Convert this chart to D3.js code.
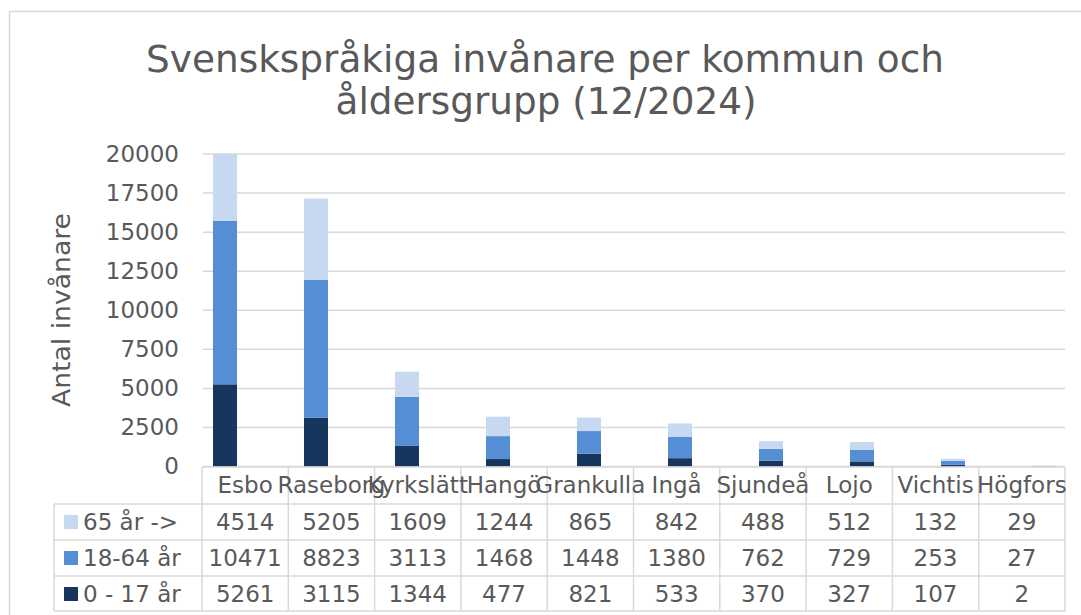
<!DOCTYPE html>
<html>
<head>
<meta charset="utf-8">
<script src="https://cdn.jsdelivr.net/npm/d3@7"></script>
<style>
  body { margin: 0; background: #fff; }
  text { font-family: "DejaVu Sans", Verdana, sans-serif; fill: #595959; }
</style>
</head>
<body>
<div class="chart"></div>
<script>
// data (table under the chart)
var kommuner = ["Esbo", "Raseborg", "Kyrkslätt", "Hangö", "Grankulla", "Ingå", "Sjundeå", "Lojo", "Vichtis", "Högfors"];
var barn = [5261, 3115, 1344, 477, 821, 533, 370, 327, 107, 2];          // 0 - 17 år
var vuxna = [10471, 8823, 3113, 1468, 1448, 1380, 762, 729, 253, 27];   // 18-64 år
var aldre = [4514, 5205, 1609, 1244, 865, 842, 488, 512, 132, 29];      // 65 år ->
var yTicks = [0, 2500, 5000, 7500, 10000, 12500, 15000, 17500, 20000];

var series = [
  { name: "0 - 17 år", values: barn, color: "#17365d" },
  { name: "18-64 år", values: vuxna, color: "#558ed5" },
  { name: "65 år ->", values: aldre, color: "#c6d9f1" }
];
// table rows are listed top to bottom, reverse of stacking
var tableRows = series.slice().reverse();

var width = 1081, height = 615;
var grid = "#d9d9d9";

var svg = d3.select(".chart")
    .append("svg")
    .attr("width", width)
    .attr("height", height);

svg.append("rect")
    .attr("width", width).attr("height", height)
    .attr("fill", "#fff");

// chart outer border
svg.append("rect")
    .attr("x", 9.5).attr("y", 11.5)
    .attr("width", 1200).attr("height", 800)
    .attr("fill", "none")
    .attr("stroke", grid)
    .attr("stroke-width", 1.5);

// title
svg.append("text")
    .attr("x", 545).attr("y", 72)
    .attr("text-anchor", "middle")
    .attr("font-size", 38)
    .attr("textLength", 798)
    .attr("lengthAdjust", "spacingAndGlyphs")
    .text("Svenskspråkiga invånare per kommun och");
svg.append("text")
    .attr("x", 546).attr("y", 114)
    .attr("text-anchor", "middle")
    .attr("font-size", 38)
    .attr("textLength", 421)
    .attr("lengthAdjust", "spacingAndGlyphs")
    .text("åldersgrupp (12/2024)");

var y = d3.scaleLinear()
    .domain([0, 20000])
    .range([466.5, 154])
    .clamp(true);

// bars sit on their own band scale (they do not line up with the table columns)
var x = d3.scaleBand()
    .domain(kommuner)
    .range([179.5, 1089.5])
    .paddingInner(0.736)
    .paddingOuter(0.368);

// table columns
var col = d3.scaleBand()
    .domain(kommuner)
    .range([202, 1065]);

// gridlines
svg.append("g")
    .selectAll("line")
    .data(yTicks)
    .enter()
    .append("line")
    .attr("x1", 203).attr("x2", 1065)
    .attr("y1", function(d) { return y(d); })
    .attr("y2", function(d) { return y(d); })
    .attr("stroke", grid)
    .attr("stroke-width", 1.5);

// y axis labels
var yAxis = d3.axisLeft(y)
    .tickValues(yTicks)
    .tickFormat(d3.format("d"))
    .tickSize(0)
    .tickPadding(0);
var yg = svg.append("g")
    .attr("transform", "translate(179,0)")
    .call(yAxis);
yg.select(".domain").remove();
yg.selectAll("text")
    .attr("font-size", 23)
    .attr("font-family", "DejaVu Sans, Verdana, sans-serif")
    .attr("fill", "#595959");

svg.append("text")
    .attr("transform", "translate(70,310) rotate(-90)")
    .attr("text-anchor", "middle")
    .attr("font-size", 25)
    .attr("textLength", 194)
    .attr("lengthAdjust", "spacingAndGlyphs")
    .text("Antal invånare");

// stacked bars
var rows = kommuner.map(function(k, i) {
  var r = { kommun: k };
  series.forEach(function(s) { r[s.name] = s.values[i]; });
  return r;
});
var stack = d3.stack().keys(series.map(function(s) { return s.name; }));
var layers = stack(rows);

svg.append("g")
    .selectAll("g")
    .data(layers)
    .enter()
    .append("g")
    .attr("fill", function(d, i) { return series[i].color; })
    .selectAll("rect")
    .data(function(d) { return d; })
    .enter()
    .append("rect")
    .attr("x", function(d) { return x(d.data.kommun); })
    .attr("width", x.bandwidth())
    .attr("y", function(d) { return y(d[1]); })
    .attr("height", function(d) { return y(d[0]) - y(d[1]); });

// data table
var headTop = 467, rowH = 36, bodyTop = 504;
var bodyBottom = bodyTop + rowH * 3 - 1;
var tbl = svg.append("g")
    .attr("stroke", grid)
    .attr("stroke-width", 1.5);

tbl.append("line")
    .attr("x1", 202).attr("x2", 1065)
    .attr("y1", headTop).attr("y2", headTop);
tbl.selectAll(".hline")
    .data([0, 1, 2, 3])
    .enter()
    .append("line")
    .attr("class", "hline")
    .attr("x1", 54).attr("x2", 1065)
    .attr("y1", function(d) { return d === 3 ? bodyBottom : bodyTop + d * rowH; })
    .attr("y2", function(d) { return d === 3 ? bodyBottom : bodyTop + d * rowH; });
tbl.selectAll(".vline")
    .data(kommuner.map(function(k) { return col(k); }).concat([1065]))
    .enter()
    .append("line")
    .attr("class", "vline")
    .attr("x1", function(d) { return d; })
    .attr("x2", function(d) { return d; })
    .attr("y1", headTop).attr("y2", bodyBottom);
tbl.append("line")
    .attr("x1", 54).attr("x2", 54)
    .attr("y1", bodyTop).attr("y2", bodyBottom);

// category header
svg.append("g")
    .selectAll("text")
    .data(kommuner)
    .enter()
    .append("text")
    .attr("x", function(d) { return col(d) + col.bandwidth() / 2; })
    .attr("y", 493)
    .attr("text-anchor", "middle")
    .attr("font-size", 23)
    .text(function(d) { return d; });

// value rows with legend keys
tableRows.forEach(function(s, ri) {
  var mid = bodyTop + ri * rowH + rowH / 2;
  var g = svg.append("g");
  g.append("rect")
      .attr("x", 64).attr("y", mid - 7)
      .attr("width", 14).attr("height", 14)
      .attr("fill", s.color);
  g.append("text")
      .attr("x", 83).attr("y", mid + 8)
      .attr("font-size", 23)
      .text(s.name);
  g.selectAll(".val")
      .data(s.values)
      .enter()
      .append("text")
      .attr("class", "val")
      .attr("x", function(d, i) { return col(kommuner[i]) + col.bandwidth() / 2; })
      .attr("y", mid + 8)
      .attr("text-anchor", "middle")
      .attr("font-size", 23)
      .text(function(d) { return d; });
});
</script>
</body>
</html>
